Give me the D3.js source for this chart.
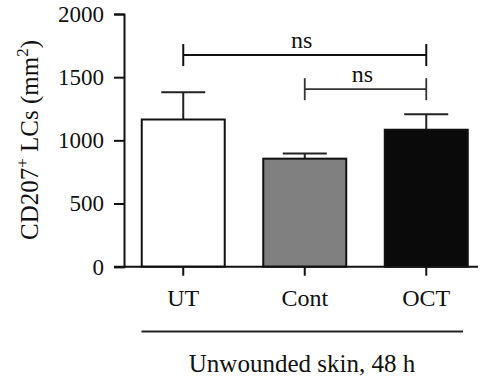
<!DOCTYPE html>
<html><head><meta charset="utf-8">
<script src="https://cdn.jsdelivr.net/npm/d3@7"></script>
<style>body{margin:0;background:#fff}svg{display:block}text{font-family:"Liberation Serif","DejaVu Serif",serif;fill:#111}</style>
</head><body>
<script>
const categories = ["UT", "Cont", "OCT"];
const means = [1165, 855, 1084];
const errors = [215, 40, 122];
const fills = ["#ffffff", "#7f807f", "#0a0a0a"];
const yTicks = [0, 500, 1000, 1500, 2000];
const comparisons = [
  {from: "UT", to: "OCT", y: 1675, label: "ns"},
  {from: "Cont", to: "OCT", y: 1405, label: "ns"}
];
const groupLabel = "Unwounded skin, 48 h";

const W = 488, H = 382;
const svg = d3.select("body").append("svg").attr("width", W).attr("height", H);
const y = d3.scaleLinear().domain([0, 2000]).range([266.7, 14]);
const x = d3.scaleBand().domain(categories).range([124, 485.5]).paddingInner(0.317).paddingOuter(0.146);

// y axis
const ya = svg.append("g").attr("transform", "translate(124,0)")
  .call(d3.axisLeft(y).tickValues(yTicks).tickFormat(d3.format("d")).tickSize(10).tickPadding(10));
ya.select(".domain").attr("stroke", "#111").attr("stroke-width", 2);
ya.selectAll(".tick line").attr("stroke", "#111").attr("stroke-width", 2);
ya.selectAll(".tick text").style("font-size", "23px").attr("fill", "#111");

// bars
const bw = x.bandwidth();
categories.forEach((c, i) => {
  const cx = x(c) + bw / 2;
  svg.append("line").attr("x1", cx).attr("x2", cx).attr("y1", y(means[i])).attr("y2", y(means[i] + errors[i]))
    .attr("stroke", "#222").attr("stroke-width", 2);
  svg.append("line").attr("x1", cx - 22).attr("x2", cx + 22).attr("y1", y(means[i] + errors[i])).attr("y2", y(means[i] + errors[i]))
    .attr("stroke", "#222").attr("stroke-width", 2);
  svg.append("rect").attr("x", x(c)).attr("y", y(means[i])).attr("width", bw).attr("height", y(0) - y(means[i]))
    .attr("fill", fills[i]).attr("stroke", "#111").attr("stroke-width", 2);
});

// x axis
const xa = svg.append("g").attr("transform", `translate(0,${y(0)})`)
  .call(d3.axisBottom(x).tickSize(9).tickPadding(13).tickSizeOuter(0));
xa.select(".domain").attr("stroke", "#111").attr("stroke-width", 2).attr("d", `M114,0H478`);
xa.selectAll(".tick line").attr("stroke", "#111").attr("stroke-width", 2);
xa.selectAll(".tick text").style("font-size", "24px").attr("fill", "#111");

// significance brackets
comparisons.forEach((cmp, k) => {
  const x1 = x(cmp.from) + bw / 2, x2 = x(cmp.to) + bw / 2, yy = y(cmp.y);
  const g = svg.append("g").attr("stroke", k === 0 ? "#111" : "#333").attr("stroke-width", k === 0 ? 2 : 1.8);
  g.append("line").attr("x1", x1).attr("x2", x2).attr("y1", yy).attr("y2", yy);
  g.append("line").attr("x1", x1).attr("x2", x1).attr("y1", yy - 11).attr("y2", yy + 11);
  g.append("line").attr("x1", x2).attr("x2", x2).attr("y1", yy - 11).attr("y2", yy + 11);
  svg.append("text").attr("x", (x1 + x2) / 2 - 3).attr("y", yy - 7).attr("text-anchor", "middle")
    .style("font-size", "24px").text(cmp.label);
});

// group line and label
svg.append("line").attr("x1", 141.5).attr("x2", 463).attr("y1", 331.5).attr("y2", 331.5)
  .attr("stroke", "#222").attr("stroke-width", 2);
svg.append("text").attr("x", 302).attr("y", 372).attr("text-anchor", "middle").style("font-size", "25px").text(groupLabel);

// y label
const yl = svg.append("text").attr("transform", "translate(38,140) rotate(-90)").attr("text-anchor", "middle").style("font-size", "25px");
yl.append("tspan").text("CD207");
yl.append("tspan").attr("dy", -10).style("font-size", "17px").text("+");
yl.append("tspan").attr("dy", 10).text(" LCs (mm");
yl.append("tspan").attr("dy", -10).style("font-size", "17px").text("2");
yl.append("tspan").attr("dy", 10).text(")");
</script>
</body></html>
